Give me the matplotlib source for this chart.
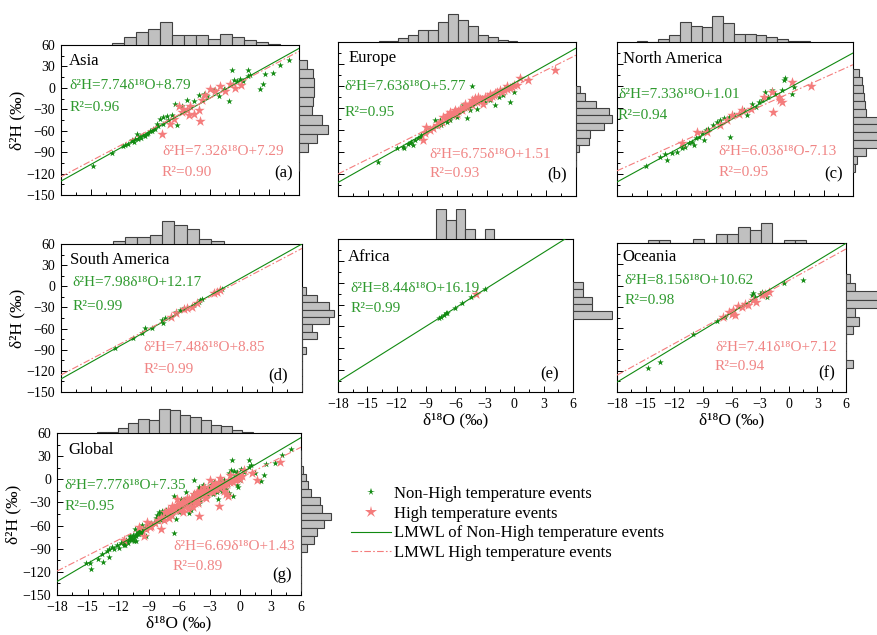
import numpy as np
import matplotlib.pyplot as plt
from matplotlib.lines import Line2D

plt.rcParams['font.family'] = ['Liberation Serif', 'DejaVu Serif']

regions = ['Asia', 'Europe', 'North America', 'South America', 'Africa', 'Oceania', 'Global']
tags = ['(a)', '(b)', '(c)', '(d)', '(e)', '(f)', '(g)']

# (d18O, d2H), non-high temperature events / high temperature events
asia_non = [(-14.8, -109), (-12.9, -91), (-11.7, -82), (-11.5, -80), (-11.2, -79), (-10.85, -75),
            (-10.85, -73), (-10.6, -76), (-10.5, -72), (-10.35, -64), (-10.2, -71), (-10.0, -68),
            (-9.9, -70), (-9.7, -66), (-9.5, -67), (-9.35, -64), (-9.2, -63), (-9.0, -61),
            (-8.8, -60), (-8.75, -57), (-8.5, -57), (-8.3, -50), (-8.2, -54), (-8.0, -43),
            (-7.7, -41), (-7.7, -50), (-7.3, -40), (-7.2, -45), (-6.8, -38), (-6.5, -22),
            (-6.3, -52), (-5.8, -26), (-5.3, -17), (-4.6, -19), (-4.05, -10), (-3.6, -8),
            (-3.3, -12), (-2.6, -3), (-2.1, -12), (-1.6, -1), (-1.1, -18), (-0.8, 25),
            (-0.6, 11), (-0.3, 9), (0.05, 13), (0.4, 9), (0.9, 25), (0.9, 16), (1.05, 18),
            (2.1, -2), (2.4, 6), (2.6, 20), (3.4, 21), (4.1, 32), (5.0, 39)]
asia_hot = [(-7.8, -64), (-7.0, -50), (-6.65, -43), (-6.15, -26), (-5.8, -34), (-5.65, -29),
            (-5.3, -31), (-5.1, -38), (-5.0, -26), (-4.6, -36), (-4.1, -31), (-4.0, -47),
            (-3.8, -17), (-3.5, -10), (-3.0, -1), (-2.5, -5), (-2.0, 2), (-1.45, -5),
            (-1.0, 6), (-0.45, 0), (0.2, 4)]

europe_non = [(-13.96, -103), (-12.1, -85), (-11.4, -83), (-11.3, -85), (-10.9, -79), (-10.75, -78),
              (-10.6, -76), (-10.4, -80.6), (-10.25, -74), (-9.9, -71.5), (-9.75, -69), (-9.6, -67),
              (-9.25, -64.7), (-9.1, -62.4), (-8.75, -58), (-8.2, -46.6), (-8.1, -54.7),
              (-7.7, -46.6), (-7.6, -53.4), (-7.05, -48.8), (-6.7, -46.6), (-6.4, -37.5),
              (-6.2, -35), (-6.0, -42), (-5.4, -26), (-5.0, -44.3), (-4.7, -33), (-4.5, -0.3),
              (-4.0, -30.7), (-3.5, -17), (-3.2, -21.6), (-2.7, -19.4), (-2.2, -26), (-1.8, -15),
              (-1.35, -12.6), (-0.65, -21.6), (-0.3, -8)]
europe_hot = [(-9.4, -73.8), (-9.25, -64.7), (-9.1, -55.6), (-8.75, -60.2), (-8.4, -57),
              (-8.05, -53.4), (-7.8, -50), (-7.55, -48.8), (-7.4, -42), (-7.05, -44.3),
              (-7.05, -39.8), (-6.9, -41), (-6.7, -35), (-6.55, -39.8), (-6.3, -36), (-6.2, -33),
              (-6.05, -37.5), (-5.9, -34), (-5.7, -30.7), (-5.5, -33), (-5.3, -29), (-5.2, -24),
              (-5.0, -28.4), (-4.8, -25), (-4.5, -26), (-4.5, -19.4), (-4.3, -22), (-4.2, -17),
              (-4.0, -21.6), (-3.85, -14.8), (-3.7, -18), (-3.5, -19.4), (-3.35, -24),
              (-3.2, -15), (-3.0, -14.8), (-2.7, -10.3), (-2.7, -17), (-2.5, -13), (-2.3, -12.6),
              (-2.2, -9), (-2.0, -8), (-1.67, -5.8), (-1.5, -8), (-1.3, -5.8), (-1.0, -3.5),
              (-1.0, -0.3), (-0.7, -3), (-0.5, -1), (-0.3, 1), (0.0, 1), (0.35, 11.5),
              (1.2, 7.8), (3.9, 22)]

namerica_non = [(-15.1, -109), (-13.6, -96.5), (-13.1, -92.8), (-12.9, -101), (-12.4, -91),
                (-11.9, -89.7), (-11.4, -85), (-11.05, -82.9), (-10.7, -78.3), (-10.4, -76),
                (-10.2, -80.6), (-10.0, -71.5), (-9.7, -69.3), (-9.35, -64.7), (-9.2, -73.8),
                (-9.0, -60.2), (-8.7, -58), (-8.2, -53.4), (-7.8, -48.8), (-7.5, -46.6),
                (-7.15, -44.3), (-6.65, -42), (-6.5, -69.3), (-6.1, -39.8), (-5.6, -37.5),
                (-5.1, -33), (-4.8, -39.8), (-4.3, -24), (-3.9, -28.4), (-3.6, -21.6),
                (-3.25, -19.4), (-2.9, -8), (-2.6, -14.8), (-2.2, -4.9), (-1.9, -10.3),
                (-1.55, -14.8), (-1.2, -5.8), (-1.05, 7.8), (-0.9, 11.5), (-0.2, -10.3),
                (0.0, -1.2)]
namerica_hot = [(-11.4, -78.3), (-9.9, -62.4), (-8.85, -62.4), (-7.5, -53.4), (-6.8, -46.6),
                (-6.3, -39.8), (-5.6, -37.5), (-5.3, -33), (-4.4, -30.7), (-3.1, -14.8),
                (-2.2, -8), (-2.1, -35.2), (-1.55, -14.8), (-1.4, -19.4), (-1.2, -21.6),
                (-0.2, 5.6), (1.7, -0.3)]

samerica_non = [(-12.6, -88.2), (-10.8, -74), (-9.95, -65.9), (-9.6, -59.7), (-8.95, -58.8),
                (-7.97, -47.8), (-7.8, -52.6), (-7.6, -45.5), (-6.5, -36), (-6.15, -33.6),
                (-5.8, -31.2), (-4.8, -26.5), (-4.3, -21.7), (-4.15, -19.3), (-4.0, -18.4),
                (-2.0, -4.1)]
samerica_hot = [(-7.0, -43), (-6.5, -38.3), (-5.8, -32.6), (-5.5, -31.2), (-5.0, -28.8),
                (-4.5, -24.1), (-2.8, -8.9), (-2.5, -7.5), (-2.2, -5.1)]

africa_non = [(-7.7, -48.9), (-7.45, -46.6), (-7.2, -44.3), (-7.0, -42), (-6.9, -41.1),
              (-6.0, -35.1), (-5.35, -28.2), (-4.4, -19), (-3.0, -8.9)]
africa_hot = [(-3.9, -15.4)]

oceania_non = [(-14.7, -115.7), (-13.45, -107.2), (-10.0, -68.7), (-7.55, -49.9), (-6.7, -44.3),
               (-3.9, -12.8), (-3.7, -10.5), (-3.5, -16.1), (-3.0, -11.4), (-2.8, -9),
               (-2.3, -16.1), (-0.5, 4.1), (1.5, 8.3)]
oceania_hot = [(-6.85, -44.3), (-6.3, -37.2), (-6.0, -39.6), (-5.8, -34.9), (-5.6, -41.9),
               (-5.3, -29.2), (-4.95, -30.2), (-4.6, -25.5), (-4.25, -27.8), (-3.7, -20.8),
               (-3.4, -23.1), (-2.8, -13.7), (-2.5, -11.4), (-2.1, -9.0)]

# fitted LMWL: slope, intercept, R2 (None where no line)
non_slope = [7.74, 7.63, 7.33, 7.98, 8.44, 8.15, 7.77]
non_icept = [8.79, 5.77, 1.01, 12.17, 16.19, 10.62, 7.35]
non_r2 = [0.96, 0.95, 0.94, 0.99, 0.99, 0.98, 0.95]
hot_slope = [7.32, 6.75, 6.03, 7.48, None, 7.41, 6.69]
hot_icept = [7.29, 1.51, -7.13, 8.85, None, 7.12, 1.43]
hot_r2 = [0.90, 0.93, 0.95, 0.99, None, 0.94, 0.89]

# marginal histograms (bar heights as read)
top_start = [-12.9, -13.9, -16.0, -12.86, -7.96, -14.8, -14.07]
top_bin = [1.21, 1.0, 1.1, 1.23, 0.99, 1.19, 1.02]
top_counts = [
    [1.7, 8.3, 13.3, 15.7, 23.3, 10.3, 10.3, 10.3, 5.7, 11.3, 7.7, 5.0, 2.7, 0.7],
    [0.7, 1.0, 4.3, 6.7, 11.7, 12.3, 20.0, 28.3, 22.3, 16.0, 6.7, 5.0, 1.7, 0.7],
    [0.7, 0, 3.3, 7.3, 20.0, 16.0, 14.7, 25.7, 19.3, 8.3, 7.7, 6.7, 5.0, 3.3, 0.7, 0.7],
    [3.3, 7.0, 7.0, 9.3, 22.7, 19.3, 15.0, 5.0, 3.3],
    [30.0, 19.3, 30.0, 10.0, 0, 10.0],
    [2.7, 2.7, 0, 0, 4.3, 0, 9.3, 9.3, 16.0, 13.3, 20.3, 0, 2.7, 2.7],
    [1.0, 1.0, 5.0, 10.0, 14.3, 13.3, 24.0, 23.3, 18.3, 16.0, 12.7, 8.3, 7.3, 2.7, 1.0],
]
right_top = [39.6, 0.4, 23.2, -1.7, 0.9, 16.3, 37.6]
right_bin = [13.0, 10.1, 10.8, 10.5, 10.1, 12.1, 10.1]
right_counts = [
    [7.7, 13.7, 15.0, 15.0, 13.7, 13.3, 22.7, 28.7, 17.7, 9.3, 0.4, 0.4],
    [4.0, 9.0, 20.0, 33.3, 35.7, 28.0, 14.0, 13.3, 3.3, 0.4, 0.4],
    [5.7, 9.0, 10.0, 10.7, 12.3, 13.3, 30, 30, 30, 30, 13.3, 4.0, 2.3],
    [4.3, 15.0, 27.0, 32.0, 27.0, 10.3, 15.0, 0, 4.3, 0.4, 0.4, 0.4, 0.4, 0.4],
    [10.0, 10.0, 19.3, 19.3, 39.0],
    [3.7, 9.3, 40, 40, 9.3, 12.7, 7.0, 0, 0, 0, 7.0],
    [0.4, 0.4, 1.7, 5.0, 7.3, 9.7, 19.0, 21.3, 29.7, 23.3, 16.3, 13.0, 5.7, 0.4, 0.4, 0.4, 0.4, 0.4],
]

non_sets = [asia_non, europe_non, namerica_non, samerica_non, africa_non, oceania_non]
hot_sets = [asia_hot, europe_hot, namerica_hot, samerica_hot, africa_hot, oceania_hot]
non_sets.append(sum(non_sets, []))
hot_sets.append(sum(hot_sets, []))

# layout in pixels: left, top, right, bottom
boxes = [(61, 45, 299, 195), (338, 42, 576, 196), (617, 42, 853, 196),
         (61, 244, 302, 392), (338, 239, 573, 392), (617, 243, 846, 392),
         (57, 433, 301, 595)]
# text anchors (axes fraction): name, green eq, green R2, red eq, red R2, tag
name_pos = [(0.035, 0.895), (0.046, 0.896), (0.025, 0.892), (0.039, 0.889), (0.043, 0.882), (0.023, 0.906), (0.048, 0.897)]
geq_pos = [(0.035, 0.727, 0.584), (0.028, 0.713, 0.54), (0.004, 0.661, 0.525), (0.046, 0.74, 0.581),
           (0.054, 0.678, 0.547), (0.034, 0.749, 0.615), (0.031, 0.674, 0.546)]
req_pos = [(0.424, 0.289, 0.149), (0.383, 0.272, 0.143), (0.43, 0.287, 0.151), (0.342, 0.299, 0.154),
           None, (0.428, 0.302, 0.168), (0.475, 0.299, 0.175)]
tag_pos = [(0.935, 0.144), (0.919, 0.143), (0.918, 0.143), (0.9, 0.113), (0.9, 0.116), (0.917, 0.128), (0.921, 0.124)]

GREEN = '#118a11'
GREEN_TXT = '#2f9a2f'
RED = '#f47c7c'
RED_TXT = '#f08585'
BAR = '#c0c0c0'

W, H = 877, 635
fig = plt.figure(figsize=(W / 100, H / 100), dpi=100)


def px_axes(l, t, r, b):
    return fig.add_axes([l / W, 1 - b / H, (r - l) / W, (b - t) / H])


xs = np.array([-18.0, 6.0])
for i in range(7):
    l, t, r, b = boxes[i]
    ax = px_axes(l, t, r, b)
    ax.set_xlim(-18, 6)
    ax.set_ylim(-150, 60)
    non = np.array(non_sets[i])
    hot = np.array(hot_sets[i])
    ax.scatter(non[:, 0], non[:, 1], marker='*', s=24, color=GREEN, linewidths=0, zorder=2)
    ax.scatter(hot[:, 0], hot[:, 1], marker='*', s=62, color=RED, linewidths=0, zorder=3)
    ax.plot(xs, non_slope[i] * xs + non_icept[i], color=GREEN, lw=0.8, zorder=4)
    if hot_slope[i] is not None:
        ax.plot(xs, hot_slope[i] * xs + hot_icept[i], color=RED, lw=0.8,
                dashes=(6, 2, 1.5, 2), zorder=4)

    ax.set_xticks(np.arange(-18, 7, 3))
    ax.set_xticks(np.arange(-18, 6.1, 1.5), minor=True)
    ax.set_yticks(np.arange(-150, 61, 30))
    ax.set_yticks(np.arange(-150, 61, 15), minor=True)
    ax.tick_params(which='both', direction='in', top=False, right=False, labelsize=10, pad=4)
    ax.tick_params(which='major', length=4, width=0.7)
    ax.tick_params(which='minor', length=2.5, width=0.7)
    for sp in ax.spines.values():
        sp.set_linewidth(0.8)
    if i not in (0, 3, 6):
        ax.tick_params(labelleft=False)
    else:
        ax.set_ylabel('δ²H (‰)', fontsize=12.5, labelpad=1)
    if i not in (4, 5, 6):
        ax.tick_params(labelbottom=False)
    else:
        ax.set_xlabel('δ¹⁸O (‰)', fontsize=12.5, labelpad=1)

    ax.text(*name_pos[i], regions[i], transform=ax.transAxes, fontsize=12, va='center')
    gx, gy1, gy2 = geq_pos[i]
    ax.text(gx, gy1, f'δ²H={non_slope[i]:.2f}δ¹⁸O{non_icept[i]:+.2f}', transform=ax.transAxes,
            fontsize=11, color=GREEN_TXT, va='center')
    ax.text(gx, gy2, f'R²={non_r2[i]:.2f}', transform=ax.transAxes,
            fontsize=11, color=GREEN_TXT, va='center')
    if req_pos[i] is not None:
        rx, ry1, ry2 = req_pos[i]
        ax.text(rx, ry1, f'δ²H={hot_slope[i]:.2f}δ¹⁸O{hot_icept[i]:+.2f}', transform=ax.transAxes,
                fontsize=11, color=RED_TXT, va='center')
        ax.text(rx, ry2, f'R²={hot_r2[i]:.2f}', transform=ax.transAxes,
                fontsize=11, color=RED_TXT, va='center')
    ax.text(*tag_pos[i], tags[i], transform=ax.transAxes, fontsize=12, ha='center', va='center')

    # top histogram (d18O)
    hx = px_axes(l, t - 30, r, t)
    hx.set_xlim(-18, 6)
    hx.set_ylim(0, 30)
    cnt = top_counts[i]
    left_edges = top_start[i] + top_bin[i] * np.arange(len(cnt))
    hx.bar(left_edges, cnt, width=top_bin[i], align='edge', color=BAR, edgecolor='#404040', linewidth=0.8)
    hx.axis('off')

    # right histogram (d2H)
    hy = px_axes(r, t, r + 40, b)
    hy.set_ylim(-150, 60)
    hy.set_xlim(0, 40)
    cnt = right_counts[i]
    bottoms = right_top[i] - right_bin[i] * (np.arange(len(cnt)) + 1)
    hy.barh(bottoms, cnt, height=right_bin[i], align='edge', color=BAR, edgecolor='#404040', linewidth=0.8)
    hy.axis('off')

handles = [
    Line2D([], [], marker='*', linestyle='none', color=GREEN, markersize=5.5, markeredgewidth=0),
    Line2D([], [], marker='*', linestyle='none', color=RED, markersize=9, markeredgewidth=0),
    Line2D([], [], color=GREEN, lw=0.8),
    Line2D([], [], color=RED, lw=0.8, dashes=(6, 2, 1.5, 2)),
]
labels = ['Non-High temperature events', 'High temperature events',
          'LMWL of Non-High temperature events', 'LMWL High temperature events']
fig.legend(handles, labels, loc='upper left', bbox_to_anchor=(351 / W, 1 - 486 / H),
           frameon=False, borderpad=0, borderaxespad=0, handlelength=2.4,
           handletextpad=0.2, labelspacing=0.22, fontsize=12)

fig.savefig('out.png', dpi=100)
